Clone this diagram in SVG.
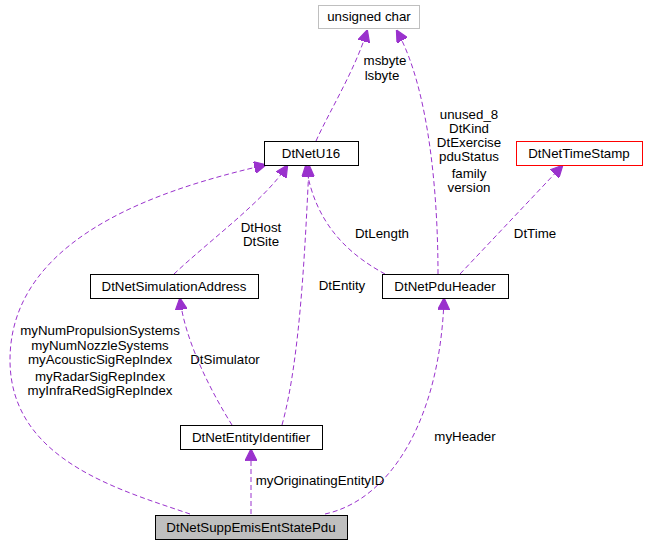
<svg xmlns="http://www.w3.org/2000/svg" width="648" height="547" viewBox="0 0 648 547">
<style>
.n rect{fill:#fff;stroke:#000;stroke-width:1}
text{font-family:"Liberation Sans",Arial,sans-serif;font-size:13.3px;fill:#000}
.e path{fill:none;stroke:#9a32cd;stroke-width:1;stroke-dasharray:5,3}
.l{text-anchor:middle}
</style>
<defs><marker id="a" viewBox="0 0 10 10" refX="9" refY="5" markerWidth="12" markerHeight="12" markerUnits="userSpaceOnUse" orient="auto"><path d="M0,0L10,5L0,10z" fill="#9a32cd" stroke="#9a32cd"/></marker></defs>
<rect width="648" height="547" fill="#fff"/>
<g class="e">
<path d="M316,141C330,110 355,70 367,31" marker-end="url(#a)"/>
<path d="M438,274C438,200 430,90 397,31" marker-end="url(#a)"/>
<path d="M460,274L562,166" marker-end="url(#a)"/>
<path d="M385,274C350,255 315,225 306,166" marker-end="url(#a)"/>
<path d="M174,274C210,240 265,200 287,166" marker-end="url(#a)"/>
<path d="M282,425C300,360 305,250 309,166" marker-end="url(#a)"/>
<path d="M232,425C210,390 185,340 180,299" marker-end="url(#a)"/>
<path d="M251,514L251,450" marker-end="url(#a)"/>
<path d="M325,514C390,500 440,420 444,299" marker-end="url(#a)"/>
<path d="M190,514C120,490 10,460 10,360C10,230 180,185 265,165" marker-end="url(#a)"/>
</g>
<g class="e"><text class="l" x="385" y="65">msbyte</text><text class="l" x="382" y="80">lsbyte</text>
<text class="l" x="469" y="119">unused_8</text><text class="l" x="469" y="133">DtKind</text><text class="l" x="469" y="147">DtExercise</text><text class="l" x="469" y="161">pduStatus</text><text class="l" x="469" y="178">family</text><text class="l" x="469" y="192">version</text>
<text class="l" x="535" y="238">DtTime</text><text class="l" x="382" y="238">DtLength</text>
<text class="l" x="261" y="232">DtHost</text><text class="l" x="261" y="246">DtSite</text>
<text class="l" x="342" y="290">DtEntity</text><text class="l" x="225" y="364">DtSimulator</text>
<text class="l" x="320" y="485">myOriginatingEntityID</text><text class="l" x="465" y="441">myHeader</text>
<text class="l" x="100" y="335">myNumPropulsionSystems</text><text class="l" x="100" y="350">myNumNozzleSystems</text><text class="l" x="100" y="364">myAcousticSigRepIndex</text><text class="l" x="100" y="381">myRadarSigRepIndex</text><text class="l" x="100" y="395">myInfraRedSigRepIndex</text></g>
<g id="unsigned_char" class="n"><rect x="318.5" y="5.5" width="101" height="23" style="stroke:#bfbfbf"/><text class="l" x="369" y="21">unsigned char</text></g>
<g id="DtNetU16" class="n"><rect x="264.5" y="141.5" width="94" height="24"/><text class="l" x="311" y="158">DtNetU16</text></g>
<g id="DtNetTimeStamp" class="n"><rect x="516.5" y="141.5" width="126" height="24" style="stroke:#f00"/><text class="l" x="579" y="158">DtNetTimeStamp</text></g>
<g id="DtNetSimulationAddress" class="n"><rect x="90.5" y="274.5" width="168" height="24"/><text class="l" x="174" y="291">DtNetSimulationAddress</text></g>
<g id="DtNetPduHeader" class="n"><rect x="382.5" y="274.5" width="126" height="24"/><text class="l" x="445" y="291">DtNetPduHeader</text></g>
<g id="DtNetEntityIdentifier" class="n"><rect x="180.5" y="425.5" width="142" height="24"/><text class="l" x="251" y="442">DtNetEntityIdentifier</text></g>
<g id="DtNetSuppEmisEntStatePdu" class="n"><rect x="155.5" y="515.5" width="192" height="24" style="fill:#bfbfbf"/><text class="l" x="251" y="532">DtNetSuppEmisEntStatePdu</text></g>
</svg>
